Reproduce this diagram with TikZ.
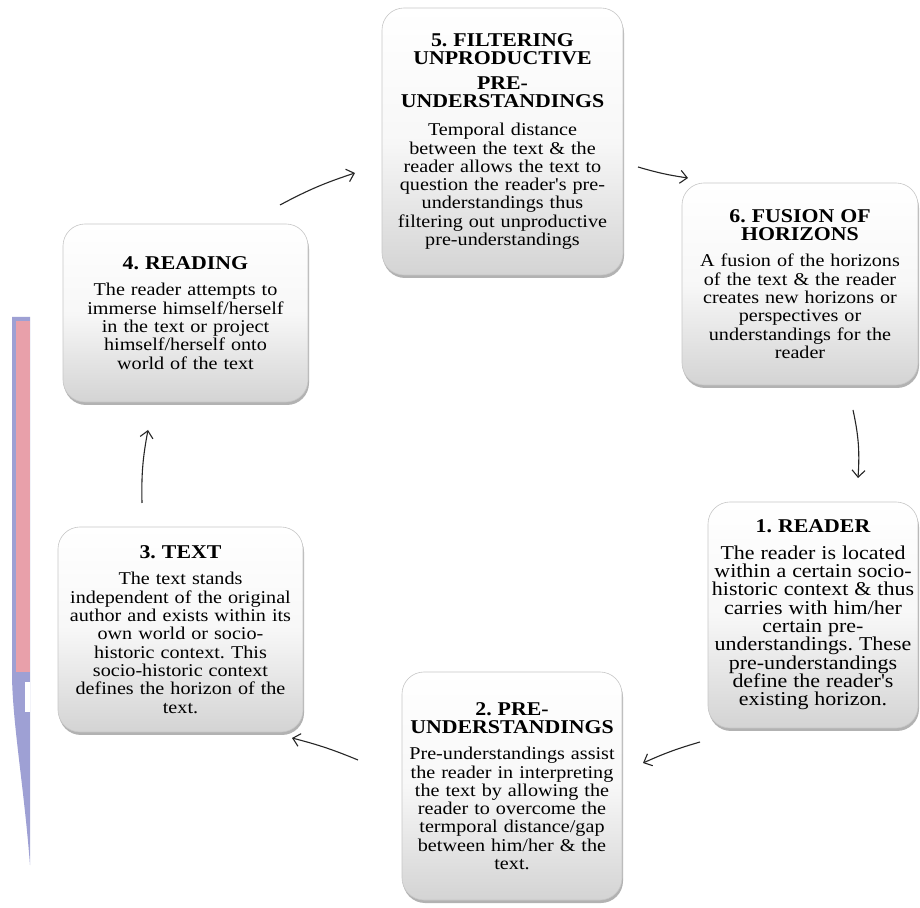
\documentclass[tikz,border=0pt]{standalone}
\usepackage{fontspec}
\newfontfamily\cardfont[FakeStretch=1.12]{Liberation Serif}
\usetikzlibrary{arrows.meta,shadows}
\frenchspacing
\newcommand\cardtitle{\bfseries\fontsize{19.5}{18.3}\selectfont}
\newcommand\cardbody[1][18]{\mdseries\fontsize{#1}{18.3}\selectfont}
\definecolor{wmblue}{RGB}{158,160,212}
\definecolor{wmpink}{RGB}{232,160,170}
\tikzset{
  card/.style={rounded corners=22pt, draw=black!22, line width=0.6pt,
    top color=white, bottom color=black!17, middle color=white!97!black,
    drop shadow={shadow xshift=1pt, shadow yshift=-3pt, opacity=0.5, fill=black!60},
    align=center, inner sep=0pt, font=\cardfont\fontsize{18}{18.3}\selectfont, text=black},
  flow/.style={line width=1.1pt, draw=black!85,
    -{Straight Barb[length=7pt,width=13pt,line width=1.1pt]}}
}
\begin{document}
\begin{tikzpicture}[x=1pt,y=1pt]
\useasboundingbox (0,0) rectangle (920,907);
\fill[white] (0,0) rectangle (920,907);
% watermark band at left
\fill[wmblue] (12,590) -- (30,590) -- (30,42) .. controls (24,120) and (13,180) .. (12,230) -- cycle;
\fill[wmpink] (16,586) rectangle (30,235);
\fill[white] (25,225) rectangle (30,195);

\node[card, text width=241pt, minimum height=267pt] (n5) at (502.5,765.5)
 {\cardtitle 5. FILTERING\\UNPRODUCTIVE\\[6pt]PRE-\\UNDERSTANDINGS\\[10pt]%
  \cardbody Temporal distance\\between the text \& the\\reader allows the text to\\question the reader's pre-\\understandings thus\\filtering out unproductive\\pre-understandings\par};

\node[card, text width=236pt, minimum height=202pt] (n6) at (800,623)
 {\cardtitle 6. FUSION OF\\HORIZONS\\[8pt]%
  \cardbody A fusion of the horizons\\of the text \& the reader\\creates new horizons or\\perspectives or\\understandings for the\\reader\par};

\node[card, text width=210pt, minimum height=226pt] (n1) at (813,292)
 {\cardtitle 1. READER\\[8pt]%
  \cardbody[19.6] The reader is located\\within a certain socio-\\historic context \& thus\\carries with him/her\\certain pre-\\understandings. These\\pre-understandings\\define the reader's\\existing horizon.\par};

\node[card, text width=220pt, minimum height=228pt] (n2) at (512,121)
 {\cardtitle 2. PRE-\\UNDERSTANDINGS\\[8pt]%
  \cardbody Pre-understandings assist\\the reader in interpreting\\the text by allowing the\\reader to overcome the\\termporal distance/gap\\between him/her \& the\\text.\par};

\node[card, text width=245pt, minimum height=205pt] (n3) at (180.5,277.5)
 {\cardtitle 3. TEXT\\[8pt]%
  \cardbody The text stands\\independent of the original\\author and exists within its\\own world or socio-\\historic context. This\\socio-historic context\\defines the horizon of the\\text.\par};

\node[card, text width=245pt, minimum height=178pt] (n4) at (185.5,594)
 {\cardtitle 4. READING\\[8pt]%
  \cardbody The reader attempts to\\immerse himself/herself\\in the text or project\\himself/herself onto\\world of the text\par};

% connector end points
\coordinate (a1s) at (638,740); \coordinate (a1e) at (688,729);
\coordinate (a2s) at (853,497); \coordinate (a2e) at (858,429);
\coordinate (a3s) at (700,165); \coordinate (a3e) at (643,144);
\coordinate (a4s) at (358,147); \coordinate (a4e) at (292,169);
\coordinate (a5s) at (142,404); \coordinate (a5e) at (148,477);
\coordinate (a6s) at (280,702); \coordinate (a6e) at (355,734);

\draw[flow] (a1s) to[bend right=4] (a1e);
\draw[flow] (a2s) to[bend left=8] (a2e);
\draw[flow] (a3s) to[bend right=4] (a3e);
\draw[flow] (a4s) to[bend right=4] (a4e);
\draw[flow] (a5s) to[bend left=6] (a5e);
\draw[flow] (a6s) to[bend left=5] (a6e);
\end{tikzpicture}
\end{document}
